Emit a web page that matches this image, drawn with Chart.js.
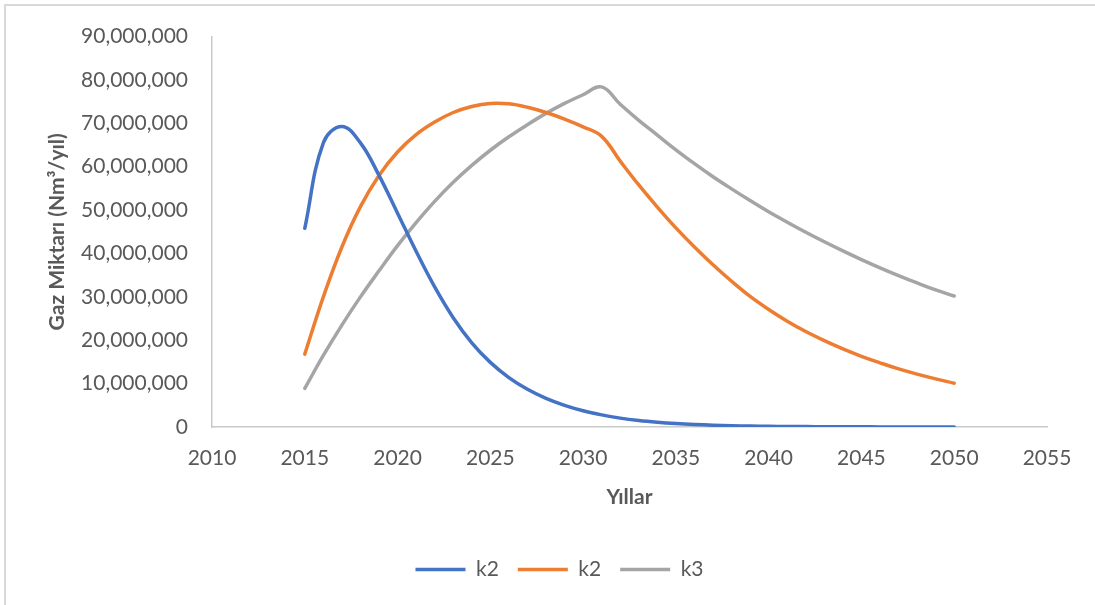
<!DOCTYPE html>
<html>
<head>
<meta charset="utf-8">
<script src="https://cdn.jsdelivr.net/npm/chart.js@4"></script>
<style>
  html, body { margin: 0; padding: 0; background: #ffffff; }
  #wrap { width: 1095px; height: 605px; position: relative; }
</style>
</head>
<body>
<div id="wrap"><canvas id="gasChart" width="1095" height="605"></canvas></div>
<script>
// Years of the projection
const years = [
  2015, 2016, 2017, 2018, 2019, 2020, 2021, 2022, 2023, 2024,
  2025, 2026, 2027, 2028, 2029, 2030, 2031, 2032, 2033, 2034,
  2035, 2036, 2037, 2038, 2039, 2040, 2041, 2042, 2043, 2044,
  2045, 2046, 2047, 2048, 2049, 2050
];

// Gas generation, Nm³/yıl
const k2First = [
  45800000, 65500000, 69300000, 65500000, 58000000, 49300000, 40500000, 32300000, 25200000, 19400000,
  14900000, 11400000, 8700000, 6600000, 5000000, 3750000, 2800000, 2050000, 1500000, 1100000,
  800000, 580000, 420000, 300000, 220000, 160000, 120000, 90000, 65000, 50000,
  35000, 25000, 20000, 15000, 10000, 8000
];
const k2Second = [
  16800000, 30000000, 41500000, 50800000, 58000000, 63400000, 67400000, 70300000, 72500000, 73900000,
  74600000, 74500000, 73700000, 72500000, 71000000, 69200000, 67000000, 61300000, 55800000, 50700000,
  45900000, 41500000, 37400000, 33600000, 30100000, 27100000, 24400000, 22000000, 19900000, 18000000,
  16300000, 14800000, 13400000, 12200000, 11100000, 10100000
];
const k3 = [
  8900000, 16500000, 23500000, 30000000, 36000000, 41800000, 47100000, 52000000, 56400000, 60300000,
  63800000, 66900000, 69700000, 72300000, 74600000, 76600000, 78400000, 74400000, 70700000, 67300000,
  63900000, 60700000, 57700000, 54900000, 52200000, 49600000, 47200000, 44900000, 42700000, 40600000,
  38600000, 36700000, 34900000, 33200000, 31600000, 30200000
];

// Axis ticks
const xTicks = [2010, 2015, 2020, 2025, 2030, 2035, 2040, 2045, 2050, 2055];
const yTicks = [0, 10000000, 20000000, 30000000, 40000000, 50000000, 60000000, 70000000, 80000000, 90000000];

const seriesNames = ['k2', 'k2', 'k3'];
const seriesColors = ['#4472C4', '#ED7D31', '#A5A5A5'];
const seriesValues = [k2First, k2Second, k3];

const textColor = '#595959';
const fontFamily = 'Lato, "Open Sans", sans-serif';

const toPoints = (vals) => vals.map((v, i) => ({ x: years[i], y: v }));

// Light frame along the top and left edges
const framePlugin = {
  id: 'frame',
  beforeDraw(chart) {
    const ctx = chart.ctx;
    ctx.save();
    ctx.fillStyle = '#ffffff';
    ctx.fillRect(0, 0, chart.width, chart.height);
    ctx.strokeStyle = '#d9d9d9';
    ctx.lineWidth = 2;
    ctx.beginPath();
    ctx.moveTo(chart.width, 5);
    ctx.lineTo(5, 5);
    ctx.lineTo(5, chart.height);
    ctx.stroke();
    ctx.restore();
  }
};

// Fixed legend band height and horizontal placement
const legendPlacement = {
  id: 'legendPlacement',
  beforeInit(chart) {
    const fit = chart.legend.fit;
    chart.legend.fit = function () {
      fit.call(this);
      this.height = 65;
    };
  },
  afterLayout(chart) {
    chart.legend.left = 72;
  }
};

new Chart(document.getElementById('gasChart'), {
  type: 'line',
  data: {
    datasets: seriesValues.map((vals, i) => ({
      label: seriesNames[i],
      data: toPoints(vals),
      borderColor: seriesColors[i],
      backgroundColor: seriesColors[i],
      borderWidth: 3.5,
      borderCapStyle: 'round',
      borderJoinStyle: 'round',
      pointRadius: 0,
      pointHoverRadius: 0,
      pointStyle: 'line',
      tension: 0.4,
      fill: false
    }))
  },
  options: {
    responsive: false,
    animation: false,
    events: [],
    layout: { padding: { top: 34, right: 48, bottom: 0, left: 0 } },
    plugins: {
      tooltip: { enabled: false },
      legend: {
        position: 'bottom',
        labels: {
          usePointStyle: true,
          pointStyleWidth: 50,
          padding: 19,
          color: textColor,
          font: { family: fontFamily, size: 21 }
        }
      }
    },
    scales: {
      x: {
        type: 'linear',
        min: xTicks[0],
        max: xTicks[xTicks.length - 1],
        afterBuildTicks(scale) { scale.ticks = xTicks.map(v => ({ value: v })); },
        afterFit(scale) { scale.height = 113; },
        grid: { display: false, drawTicks: false },
        border: { display: true, color: '#c9c9c9', width: 1.5 },
        ticks: {
          padding: 19,
          color: textColor,
          font: { family: fontFamily, size: 21 },
          callback: (v) => String(v)
        },
        title: {
          display: true,
          text: 'Yıllar',
          color: textColor,
          font: { family: fontFamily, size: 21, weight: 'bold' },
          padding: { top: 0, bottom: 30 }
        }
      },
      y: {
        type: 'linear',
        min: yTicks[0],
        max: yTicks[yTicks.length - 1],
        afterBuildTicks(scale) { scale.ticks = yTicks.map(v => ({ value: v })); },
        afterFit(scale) { scale.width = 212; },
        grid: { display: false, drawTicks: false },
        border: { display: true, color: '#c9c9c9', width: 1.5 },
        ticks: {
          padding: 24,
          color: textColor,
          font: { family: fontFamily, size: 21 },
          callback: (v) => v.toLocaleString('en-US')
        },
        title: {
          display: true,
          text: 'Gaz Miktarı (Nm³/yıl)',
          color: textColor,
          font: { family: fontFamily, size: 21, weight: 'bold' },
          padding: { top: 45, bottom: 0 }
        }
      }
    }
  },
  plugins: [framePlugin, legendPlacement]
});
</script>
</body>
</html>
